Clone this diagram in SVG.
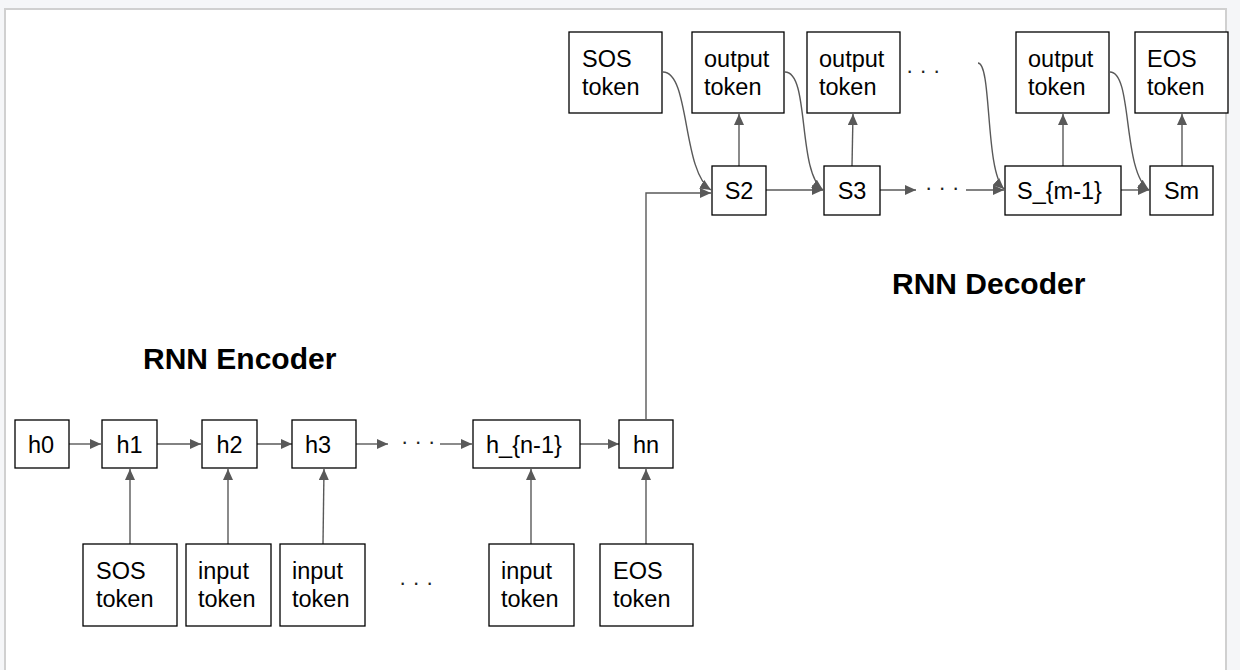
<svg xmlns="http://www.w3.org/2000/svg" width="1240" height="670" viewBox="0 0 1240 670">
<defs>
<style>
.box{fill:#fff;stroke:#000;stroke-width:1.3}
.t{font-family:"Liberation Sans",Arial,sans-serif;font-size:23.5px;fill:#000}
.c{text-anchor:middle}
.title{font-family:"Liberation Sans",Arial,sans-serif;font-size:30px;font-weight:bold;fill:#000}
.ln{fill:none;stroke:#595959;stroke-width:1.4}
.ar{marker-end:url(#ah)}
.dots{font-family:"Liberation Sans",Arial,sans-serif;font-size:22px;fill:#222}
</style>
<marker id="ah" markerWidth="12" markerHeight="10" refX="11" refY="5" orient="auto" markerUnits="userSpaceOnUse">
<path d="M0,0 L11,5 L0,10 Z" fill="#595959"/>
</marker>
</defs>
<rect x="0" y="0" width="1240" height="670" fill="#f5f6f8"/>
<rect x="5" y="9" width="1221" height="670" fill="#fff" stroke="#d0d0d0" stroke-width="2"/>

<g id="connectors">
<path class="ln ar" d="M69,444 H101"/>
<path class="ln ar" d="M157,444 H201"/>
<path class="ln ar" d="M257,444 H292"/>
<path class="ln ar" d="M356,444 H388"/>
<path class="ln ar" d="M440,444 H472"/>
<path class="ln ar" d="M580,444 H619"/>
<path class="ln ar" d="M130,544 V469"/>
<path class="ln ar" d="M228,544 V469"/>
<path class="ln ar" d="M323,544 L324,469"/>
<path class="ln ar" d="M531,544 V469"/>
<path class="ln ar" d="M646,544 V469"/>
<path class="ln ar" d="M646,419 V193 H711"/>
<path class="ln ar" d="M766,190 H823"/>
<path class="ln ar" d="M880,190 H916"/>
<path class="ln ar" d="M966,190 H1004"/>
<path class="ln ar" d="M1121,190 H1149"/>
<path class="ln ar" d="M739,166 V114"/>
<path class="ln ar" d="M852,166 L853,114"/>
<path class="ln ar" d="M1063,166 V114"/>
<path class="ln ar" d="M1182,166 V114"/>
<path class="ln ar" d="M663,72 C690,72 682,172 711,190"/>
<path class="ln ar" d="M785,72 C810,72 797,172 823,190"/>
<path class="ln ar" d="M978,63 C992,63 985,172 1004,189"/>
<path class="ln ar" d="M1110,72 C1133,72 1122,172 1149,190"/>
</g>

<g id="h0"><rect class="box" x="15" y="420" width="54" height="48"/><text class="t c" x="41" y="453">h0</text></g>
<g id="h1"><rect class="box" x="102" y="420" width="55" height="48"/><text class="t c" x="129.5" y="453">h1</text></g>
<g id="h2"><rect class="box" x="202" y="420" width="55" height="48"/><text class="t c" x="229.5" y="453">h2</text></g>
<g id="h3"><rect class="box" x="292" y="420" width="64" height="48"/><text class="t" x="305" y="453">h3</text></g>
<g id="hn1"><rect class="box" x="473" y="420" width="107" height="48"/><text class="t" x="486" y="453">h_{n-1}</text></g>
<g id="hn"><rect class="box" x="619" y="420" width="54" height="48"/><text class="t c" x="646" y="453">hn</text></g>

<g id="enc-sos"><rect class="box" x="83" y="544" width="94" height="82"/><text class="t" x="96" y="579">SOS</text><text class="t" x="96" y="607">token</text></g>
<g id="enc-in1"><rect class="box" x="186" y="544" width="85" height="82"/><text class="t" x="198" y="579">input</text><text class="t" x="198" y="607">token</text></g>
<g id="enc-in2"><rect class="box" x="280" y="544" width="85" height="82"/><text class="t" x="292" y="579">input</text><text class="t" x="292" y="607">token</text></g>
<g id="enc-in3"><rect class="box" x="489" y="544" width="85" height="82"/><text class="t" x="501" y="579">input</text><text class="t" x="501" y="607">token</text></g>
<g id="enc-eos"><rect class="box" x="600" y="544" width="93" height="82"/><text class="t" x="613" y="579">EOS</text><text class="t" x="613" y="607">token</text></g>

<g id="S2"><rect class="box" x="712" y="166" width="54" height="49"/><text class="t c" x="739" y="199">S2</text></g>
<g id="S3"><rect class="box" x="824" y="166" width="56" height="49"/><text class="t c" x="852" y="199">S3</text></g>
<g id="Sm1"><rect class="box" x="1005" y="166" width="116" height="49"/><text class="t" x="1017" y="199">S_{m-1}</text></g>
<g id="Sm"><rect class="box" x="1150" y="166" width="63" height="49"/><text class="t c" x="1181.5" y="199">Sm</text></g>

<g id="dec-sos"><rect class="box" x="569" y="32" width="93" height="81"/><text class="t" x="582" y="67">SOS</text><text class="t" x="582" y="95">token</text></g>
<g id="dec-out1"><rect class="box" x="692" y="32" width="92" height="81"/><text class="t" x="704" y="67">output</text><text class="t" x="704" y="95">token</text></g>
<g id="dec-out2"><rect class="box" x="807" y="32" width="93" height="81"/><text class="t" x="819" y="67">output</text><text class="t" x="819" y="95">token</text></g>
<g id="dec-out3"><rect class="box" x="1016" y="32" width="93" height="81"/><text class="t" x="1028" y="67">output</text><text class="t" x="1028" y="95">token</text></g>
<g id="dec-eos"><rect class="box" x="1135" y="32" width="93" height="81"/><text class="t" x="1147" y="67">EOS</text><text class="t" x="1147" y="95">token</text></g>

<g id="dots">
<text class="dots" x="401" y="449">· · ·</text>
<text class="dots" x="399" y="590">· · ·</text>
<text class="dots" x="906" y="78">· · ·</text>
<text class="dots" x="925" y="195">· · ·</text>
</g>

<g id="labels">
<text class="title" x="143" y="369">RNN Encoder</text>
<text class="title" x="892" y="294">RNN Decoder</text>
</g>
</svg>
